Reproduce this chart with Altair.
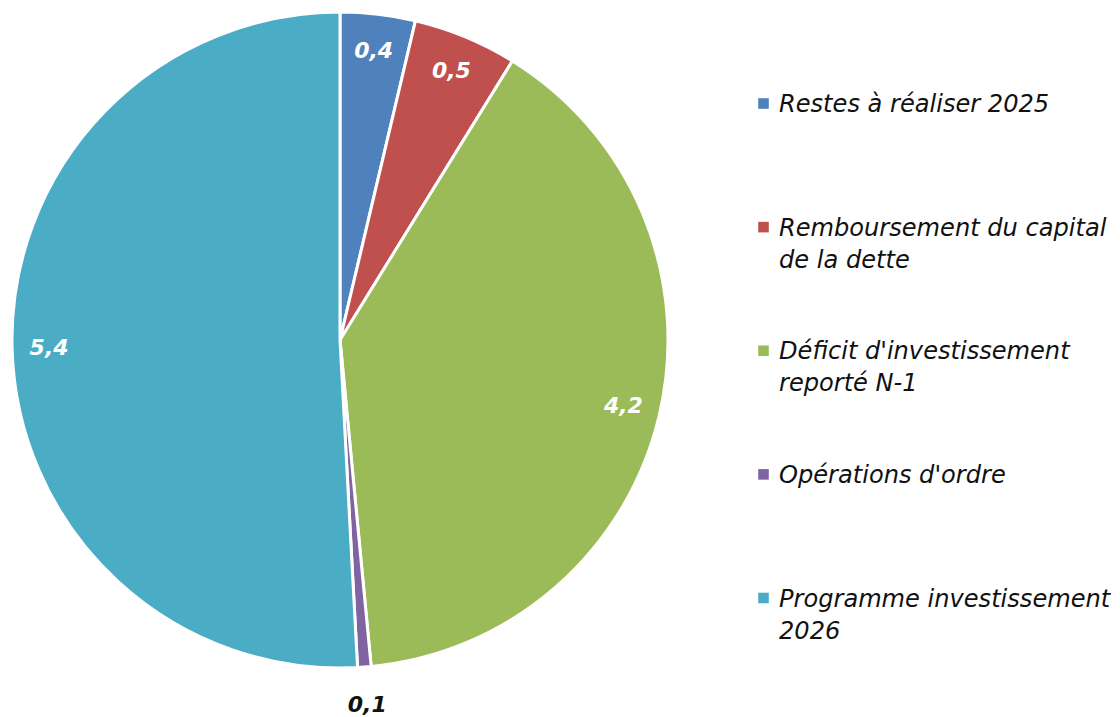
import altair as alt
import pandas as pd

categories = [
    "Restes à réaliser 2025",
    "Remboursement du capital|de la dette",
    "Déficit d'investissement|reporté N-1",
    "Opérations d'ordre",
    "Programme investissement|2026",
]
values = [0.39, 0.54, 4.19, 0.07, 5.37]
labels = ["0,4", "0,5", "4,2", "0,1", "5,4"]
colors = ["#4F81BD", "#C0504D", "#9BBB59", "#8064A2", "#4BACC6"]
outside = [False, False, False, True, False]

df = pd.DataFrame({
    "cat": categories,
    "val": values,
    "lab": labels,
    "out": outside,
    "idx": list(range(len(categories))),
})

FONT = "DejaVu Sans"
CX, CY, R = 332, 332, 328

color = alt.Color(
    "cat:N",
    sort=categories,
    scale=alt.Scale(domain=categories, range=colors),
    legend=None,
)

theta_scale = alt.Scale(domain=[0, 1])

stacked = (
    alt.Chart(df)
    .transform_joinaggregate(total="sum(val)")
    .transform_stack(
        stack="val", as_=["v0", "v1"], groupby=[], sort=[alt.SortField("idx", order="ascending")]
    )
    .transform_calculate(
        f0="datum.v0 / datum.total",
        f1="datum.v1 / datum.total",
        fm="(datum.v0 + datum.v1) / 2 / datum.total",
    )
)

pie = stacked.mark_arc(outerRadius=R, stroke="white", strokeWidth=3).encode(
    theta=alt.Theta("f0:Q", stack=None, scale=theta_scale),
    theta2="f1:Q",
    x=alt.value(CX),
    y=alt.value(CY),
    color=color,
)

inner = stacked.transform_filter("!datum.out").mark_text(
    radius=291, font=FONT, fontSize=22, fontWeight="bold", fontStyle="italic", color="white"
).encode(
    theta=alt.Theta("fm:Q", stack=None, scale=theta_scale),
    x=alt.value(CX),
    y=alt.value(CY),
    text="lab:N",
)

outer = stacked.transform_filter("datum.out").mark_text(
    radius=366, font=FONT, fontSize=22, fontWeight="bold", fontStyle="italic", color="#111111"
).encode(
    theta=alt.Theta("fm:Q", stack=None, scale=theta_scale),
    x=alt.value(CX),
    y=alt.value(CY),
    text="lab:N",
)

ypos = alt.Y(
    "cat:N",
    sort=categories,
    axis=None,
    scale=alt.Scale(range=[95.5, 590], padding=0),
)

leg_sym = alt.Chart(df).mark_square(size=112, opacity=1).encode(
    x=alt.value(755.5),
    y=ypos,
    color=color,
)

leg_txt = alt.Chart(df).mark_text(
    align="left",
    baseline="alphabetic",
    dy=8.5,
    lineBreak="|",
    lineHeight=32,
    font=FONT,
    fontSize=24.1,
    fontStyle="italic",
    color="#111111",
).encode(
    x=alt.value(771),
    y=ypos,
    text="cat:N",
)

chart = (
    (pie + inner + outer + leg_sym + leg_txt)
    .properties(width=1104, height=709, padding=0, autosize=alt.AutoSizeParams(type="none"))
    .configure_view(stroke=None)
)

chart.save("out.html", embed_options={"renderer": "svg", "actions": False})
